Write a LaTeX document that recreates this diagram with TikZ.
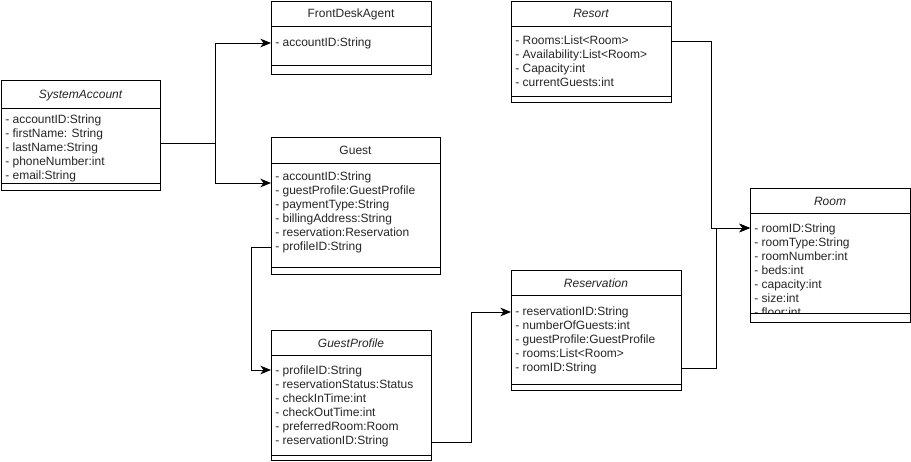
\documentclass[tikz,border=0pt]{standalone}
\usepackage{fontspec}
\setmainfont{Liberation Sans}
\usetikzlibrary{arrows.meta,fit}
\begin{document}
\begin{tikzpicture}[x=0.75pt,y=-0.75pt,
  cls/.style={draw, line width=0.75pt, inner sep=0pt, outer sep=0pt},
  sepline/.style={draw, line width=0.75pt},
  comp/.style={draw, line width=0.75pt, fill=white},
  attr/.style={anchor=west, inner sep=0pt, text height=7pt, text depth=1pt, font=\fontsize{9pt}{10pt}\selectfont, text=black!85},
  ctitle/.style={anchor=center, inner sep=0pt, text height=7pt, text depth=1pt, font=\fontsize{9pt}{10pt}\selectfont, text=black!85},
  atitle/.style={ctitle, font=\fontsize{9pt}{10pt}\selectfont\itshape},
  conn/.style={draw, line width=0.75pt, -{Stealth[length=8pt,width=6.5pt,inset=2.4pt]}},
  plain/.style={draw, line width=0.75pt}
]
\useasboundingbox (0,0) rectangle (911,461);
\fill[white] (0,0) rectangle (911,461);

% ---------- SystemAccount ----------
\node[cls, fit={(1,80) (160,190)}] (sa) {};
\draw[sepline] (sa.west |- 0,108) -- (sa.east |- 0,108);
\node[atitle] (sat) at (80.5,94) {SystemAccount};
\node[attr] (sa1) at (5,119) {- accountID:String};
\node[attr] (sa2) at (5,133) {- firstName: String};
\node[attr] (sa3) at (5,147) {- lastName:String};
\node[attr] (sa4) at (5,161) {- phoneNumber:int};
\node[attr] (sa5) at (5,175) {- email:String};
\draw[comp] (sa.west |- 0,183) rectangle (sa.south east);

% ---------- FrontDeskAgent ----------
\node[cls, fit={(271,1) (431,74)}] (fda) {};
\draw[sepline] (fda.west |- 0,26) -- (fda.east |- 0,26);
\node[ctitle] (fdat) at (351,13.5) {FrontDeskAgent};
\node[attr] (fda1) at (275,42) {- accountID:String};
\draw[comp] (fda.west |- 0,65) rectangle (fda.south east);

% ---------- Guest ----------
\node[cls, fit={(271,137) (440,274)}] (g) {};
\draw[sepline] (g.west |- 0,163) -- (g.east |- 0,163);
\node[ctitle] (gt) at (355.5,150) {Guest};
\node[attr] (g1) at (275,176) {- accountID:String};
\node[attr] (g2) at (275,190) {- guestProfile:GuestProfile};
\node[attr] (g3) at (275,204) {- paymentType:String};
\node[attr] (g4) at (275,218) {- billingAddress:String};
\node[attr] (g5) at (275,232) {- reservation:Reservation};
\node[attr] (g6) at (275,246) {- profileID:String};
\draw[comp] (g.west |- 0,267) rectangle (g.south east);

% ---------- GuestProfile ----------
\node[cls, fit={(271,330) (431,460)}] (gp) {};
\draw[sepline] (gp.west |- 0,355) -- (gp.east |- 0,355);
\node[atitle] (gpt) at (351,343) {GuestProfile};
\node[attr] (gp1) at (275,370) {- profileID:String};
\node[attr] (gp2) at (275,384) {- reservationStatus:Status};
\node[attr] (gp3) at (275,398) {- checkInTime:int};
\node[attr] (gp4) at (275,412) {- checkOutTime:int};
\node[attr] (gp5) at (275,426) {- preferredRoom:Room};
\node[attr] (gp6) at (275,440) {- reservationID:String};
\draw[comp] (gp.west |- 0,455) rectangle (gp.south east);

% ---------- Resort ----------
\node[cls, fit={(511,1) (671,102)}] (rs) {};
\draw[sepline] (rs.west |- 0,26) -- (rs.east |- 0,26);
\node[atitle] (rst) at (591,13.5) {Resort};
\node[attr] (rs1) at (515,40) {- Rooms:List<Room>};
\node[attr] (rs2) at (515,54) {- Availability:List<Room>};
\node[attr] (rs3) at (515,68) {- Capacity:int};
\node[attr] (rs4) at (515,82) {- currentGuests:int};
\draw[comp] (rs.west |- 0,96) rectangle (rs.south east);

% ---------- Reservation ----------
\node[cls, fit={(511,270) (681,390)}] (rv) {};
\draw[sepline] (rv.west |- 0,295) -- (rv.east |- 0,295);
\node[atitle] (rvt) at (596,283) {Reservation};
\node[attr] (rv1) at (515,311) {- reservationID:String};
\node[attr] (rv2) at (515,325) {- numberOfGuests:int};
\node[attr] (rv3) at (515,339) {- guestProfile:GuestProfile};
\node[attr] (rv4) at (515,353) {- rooms:List<Room>};
\node[attr] (rv5) at (515,367) {- roomID:String};
\draw[comp] (rv.west |- 0,384) rectangle (rv.south east);

% ---------- Room ----------
\node[cls, fit={(750,188) (910,322)}] (rm) {};
\draw[sepline] (rm.west |- 0,213) -- (rm.east |- 0,213);
\node[atitle] (rmt) at (830,201) {Room};
\node[attr] (rm1) at (754,228) {- roomID:String};
\node[attr] (rm2) at (754,242) {- roomType:String};
\node[attr] (rm3) at (754,256) {- roomNumber:int};
\node[attr] (rm4) at (754,270) {- beds:int};
\node[attr] (rm5) at (754,284) {- capacity:int};
\node[attr] (rm6) at (754,298) {- size:int};
\node[attr] (rm7) at (754,312) {- floor:int};
\draw[comp] (rm.west |- 0,313) rectangle (rm.south east);

% ---------- connectors ----------
\coordinate (j1) at (215,143);
\draw[plain] (sa.east |- j1) -- (j1);
\draw[conn] (j1) |- (fda.west |- 0,43);
\draw[conn] (j1) |- (g.west |- 0,183);

\draw[conn] (g.west |- 0,247) -- (251,247) |- (gp.west |- 0,370);

\draw[conn] (gp.east |- 0,442) -- (471,442) |- (rv.west |- 0,312);

\draw[conn] (rs.east |- 0,41) -- (711,41) |- (rm.west |- 0,228);
\draw[conn] (rv.east |- 0,368) -- (716,368) |- (rm.west |- 0,228);

\end{tikzpicture}
\end{document}
